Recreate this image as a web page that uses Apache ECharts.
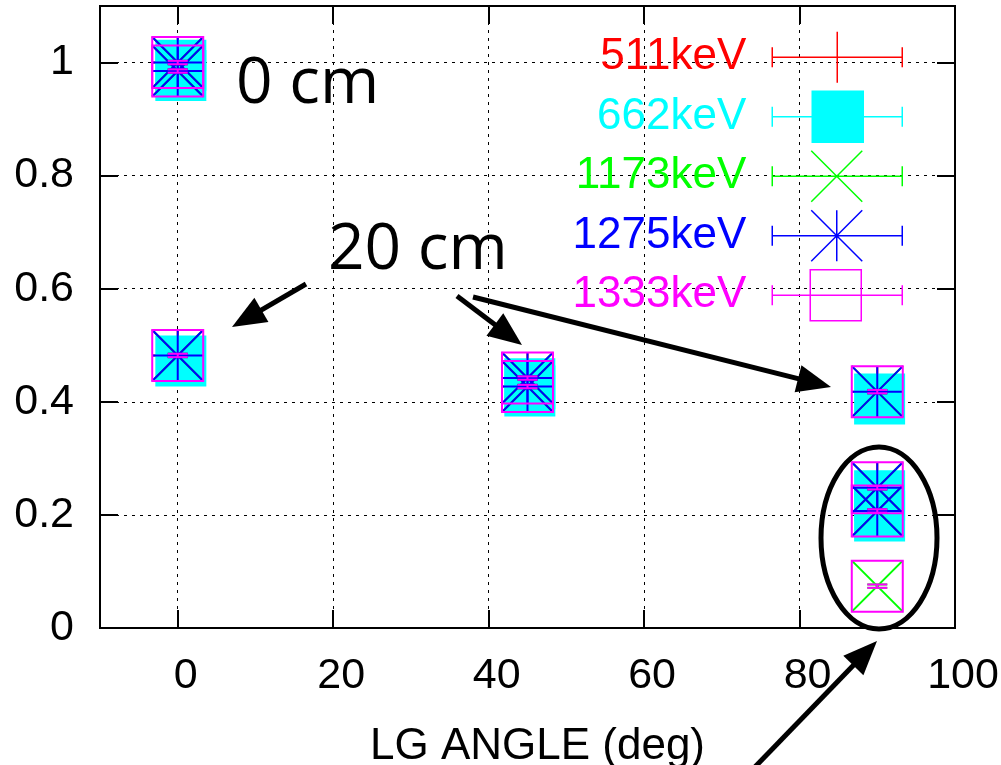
<!DOCTYPE html>
<html><head><meta charset="utf-8">
<script src="https://cdn.jsdelivr.net/npm/echarts@6/dist/echarts.min.js"></script>
<style>html,body{margin:0;padding:0;background:#fff}#c{width:1001px;height:765px}</style>
</head><body><div id="c"></div>
<script>
// ---- data: [LG angle (deg), ratio, ratio error] ----
const seriesNames = ['511keV', '662keV', '1173keV', '1275keV', '1333keV'];
const seriesColors = ['#ff0000', '#00ffff', '#00ff00', '#0000ff', '#ff00ff'];
const data511  = [[0, 1.0, 0.003], [0, 0.985, 0.003], [0, 0.482, 0.003], [45, 0.442, 0.003], [45, 0.427, 0.003], [90, 0.418, 0.003], [90, 0.248, 0.003], [90, 0.207, 0.003]];
const data662  = [[0.4, 0.995, 0.003], [0.4, 0.977, 0.003], [0.4, 0.472, 0.003], [45.3, 0.432, 0.003], [45.3, 0.419, 0.003], [90.3, 0.405, 0.003], [90.3, 0.234, 0.003], [90.3, 0.198, 0.003]];
const data1173 = [[0, 1.0, 0.003], [0, 0.985, 0.003], [0, 0.482, 0.003], [45, 0.442, 0.003], [45, 0.427, 0.003], [90, 0.418, 0.003], [90, 0.248, 0.003], [90, 0.207, 0.003], [90, 0.074, 0.003]];
const data1275 = [[0, 1.0, 0.003], [0, 0.985, 0.003], [0, 0.482, 0.003], [45, 0.442, 0.003], [45, 0.427, 0.003], [90, 0.418, 0.003], [90, 0.248, 0.003], [90, 0.207, 0.003]];
const data1333 = [[0, 1.0, 0.003], [0, 0.985, 0.003], [0, 0.482, 0.003], [45, 0.442, 0.003], [45, 0.427, 0.003], [90, 0.418, 0.003], [90, 0.248, 0.003], [90, 0.207, 0.003], [90, 0.074, 0.003]];
const seriesData = [data511, data662, data1173, data1275, data1333];
const markerKinds = ['plus', 'fsquare', 'cross', 'star', 'osquare'];
const xTickValues = [0, 20, 40, 60, 80];
const xLabelValues = [0, 20, 40, 60, 80, 100];
const yTickValues = [0.2, 0.4, 0.6, 0.8, 1.0];
const yLabelValues = [0, 0.2, 0.4, 0.6, 0.8, 1];
const xTitle = 'LG ANGLE (deg)';

const FONT = '"Liberation Sans", Arial, sans-serif';
const HALF = 25.5;

function markerChildren(kind, cx, cy, color) {
  const st = { stroke: color, lineWidth: 2, fill: null };
  const L = (x1, y1, x2, y2) => ({ type: 'line', shape: { x1, y1, x2, y2 }, style: st });
  const out = [];
  if (kind === 'plus' || kind === 'star') {
    out.push(L(cx, cy - HALF, cx, cy + HALF), L(cx - HALF, cy, cx + HALF, cy));
  }
  if (kind === 'cross' || kind === 'star') {
    out.push(L(cx - HALF, cy - HALF, cx + HALF, cy + HALF), L(cx - HALF, cy + HALF, cx + HALF, cy - HALF));
  }
  if (kind === 'fsquare') {
    out.push({ type: 'rect', shape: { x: cx - HALF, y: cy - HALF, width: 2 * HALF, height: 2 * HALF }, style: { fill: color, stroke: null } });
  }
  if (kind === 'osquare') {
    out.push({ type: 'rect', shape: { x: cx - HALF, y: cy - HALF, width: 2 * HALF, height: 2 * HALF }, style: { fill: null, stroke: color, lineWidth: 2 } });
  }
  return out;
}

function makeRender(kind, color) {
  return function (params, api) {
    const x = api.value(0), y = api.value(1), e = api.value(2);
    const p = api.coord([x, y]);
    const pt = api.coord([x, y + e]);
    const pb = api.coord([x, y - e]);
    const st = { stroke: color, lineWidth: 2, fill: null };
    const children = markerChildren(kind, p[0], p[1], color);
    children.push(
      { type: 'line', shape: { x1: p[0], y1: pt[1], x2: p[0], y2: pb[1] }, style: st },
      { type: 'line', shape: { x1: p[0] - 10, y1: pt[1], x2: p[0] + 10, y2: pt[1] }, style: st },
      { type: 'line', shape: { x1: p[0] - 10, y1: pb[1], x2: p[0] + 10, y2: pb[1] }, style: st }
    );
    return { type: 'group', children };
  };
}

// legend icons (130 x 51 box): error-bar sample line plus the marker
const bar = 'M0 25.5 L130 25.5 M0 15.5 L0 35.5 M130 15.5 L130 35.5 ';
const legendIcons = [
  'path://' + bar + 'M65 0 L65 51',
  'path://' + bar + 'M40 0 L91 0 L91 51 L40 51 Z',
  'path://' + bar + 'M39 0 L90 51 M90 0 L39 51',
  'path://' + bar + 'M39 0 L90 51 M90 0 L39 51 M64.5 0 L64.5 51',
  'path://' + bar + 'M38 0 L89 0 L89 51 L38 51 Z'
];

function arrow(x1, y1, x2, y2) {
  const dx = x2 - x1, dy = y2 - y1, len = Math.hypot(dx, dy);
  const ux = dx / len, uy = dy / len, hl = 34, hw = 14;
  const bx = x2 - ux * hl, by = y2 - uy * hl;
  return [
    { type: 'line', shape: { x1, y1, x2: x2 - ux * hl * 0.7, y2: y2 - uy * hl * 0.7 }, style: { stroke: '#000', lineWidth: 5 } },
    { type: 'polygon', shape: { points: [[x2, y2], [bx - uy * hw, by + ux * hw], [bx + uy * hw, by - ux * hw]] }, style: { fill: '#000' } }
  ];
}

const chart = echarts.init(document.getElementById('c'), null, { renderer: 'canvas' });

const gridLine = { show: true, lineStyle: { color: '#000', width: 1, type: [3, 5] } };
const option = {
  backgroundColor: '#fff',
  animation: false,
  grid: { left: 100, right: 46, top: 6, bottom: 137, containLabel: false, outerBoundsMode: 'none', show: true, borderColor: '#000', borderWidth: 2, backgroundColor: 'transparent' },
  legend: {
    orient: 'vertical', right: 93, top: 26, align: 'right',
    itemWidth: 130, itemHeight: 51, itemGap: 7, selectedMode: false,
    textStyle: { fontFamily: FONT, fontSize: 44, padding: [0, 21, 0, 0] },
    data: seriesNames.map((n, i) => ({
      name: n, icon: legendIcons[i],
      itemStyle: { color: i === 1 ? seriesColors[i] : 'rgba(0,0,0,0)', borderColor: seriesColors[i], borderWidth: 1.5 },
      textStyle: { color: seriesColors[i] }
    }))
  },
  xAxis: [{
    type: 'value', min: -10, max: 100, interval: 10,
    name: xTitle, nameLocation: 'middle', nameGap: 97,
    nameTextStyle: { fontFamily: FONT, fontSize: 44, color: '#000', padding: [0, 0, 0, 20] },
    axisLine: { onZero: false, lineStyle: { color: '#000', width: 2 } },
    axisTick: { inside: true, length: 18, customValues: xTickValues, lineStyle: { color: '#000', width: 2 } },
    axisLabel: { customValues: xLabelValues, fontFamily: FONT, fontSize: 43, color: '#000', margin: 27, padding: [0, 0, 0, 16] },
    splitLine: gridLine
  }, {
    type: 'value', position: 'top', min: -10, max: 100, interval: 10,
    axisLine: { show: false, onZero: false },
    axisTick: { inside: true, length: 18, customValues: xTickValues, lineStyle: { color: '#000', width: 2 } },
    axisLabel: { show: false }, splitLine: { show: false }
  }],
  yAxis: [{
    type: 'value', min: 0, max: 1.1, interval: 0.2,
    axisLine: { show: true, onZero: false, lineStyle: { color: '#000', width: 2 } },
    axisTick: { show: true, inside: true, length: 18, customValues: yTickValues, lineStyle: { color: '#000', width: 2 } },
    axisLabel: { customValues: yLabelValues, fontFamily: FONT, fontSize: 43, color: '#000', margin: 26 },
    splitLine: gridLine
  }, {
    type: 'value', position: 'right', min: 0, max: 1.1, interval: 0.2,
    axisLine: { show: false, onZero: false },
    axisTick: { show: true, inside: true, length: 18, customValues: yTickValues, lineStyle: { color: '#000', width: 2 } },
    axisLabel: { show: false }, splitLine: { show: false }
  }],
  series: seriesNames.map((n, i) => ({
    name: n, type: 'custom', xAxisIndex: 0, yAxisIndex: 0,
    data: seriesData[i], encode: { x: 0, y: 1 },
    itemStyle: { color: seriesColors[i] },
    renderItem: makeRender(markerKinds[i], seriesColors[i]),
    z: 3 + i
  })),
  graphic: [
    { type: 'text', left: 236, top: 53, z: 20, style: { text: '0 cm', font: '64px "Open Sans", sans-serif', fill: '#000' } },
    { type: 'text', left: 328, top: 219, z: 20, style: { text: '20 cm', font: '64px "Open Sans", sans-serif', fill: '#000' } },
    { type: 'group', z: 20, children: [].concat(
      arrow(306, 284, 232, 327),
      arrow(457, 296, 522, 345),
      arrow(473, 297, 831, 387),
      arrow(752, 770, 877, 641)
    ) },
    { type: 'ellipse', z: 20, shape: { cx: 879, cy: 538, rx: 58, ry: 91 }, style: { fill: null, stroke: '#000', lineWidth: 5 } }
  ]
};
chart.setOption(option);
</script></body></html>
